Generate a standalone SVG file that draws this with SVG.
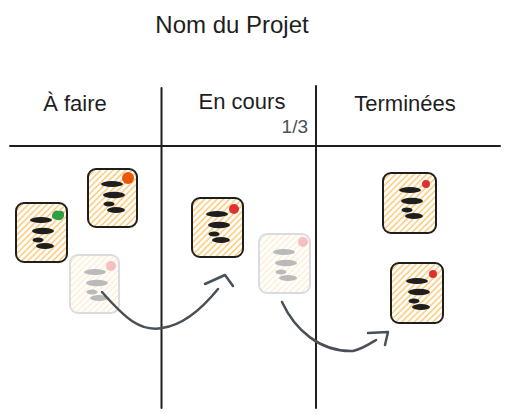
<svg xmlns="http://www.w3.org/2000/svg" width="509" height="418" viewBox="0 0 509 418">
<style>
.t{font-family:"Liberation Sans","DejaVu Sans",sans-serif;fill:#1e1e1e}
.line{stroke:#1e1e1e;stroke-width:2;stroke-linecap:round;fill:none}
.card{fill:url(#hach);stroke:#1e1e1e;stroke-width:2}
.bar{fill:#1e1e1e}
.faded{opacity:0.3}
.conn{stroke:#495057;stroke-width:2.5;fill:none;stroke-linecap:round;stroke-linejoin:round}
</style>
<defs>
<pattern id="hach" patternUnits="userSpaceOnUse" width="4.4" height="4.4" patternTransform="rotate(45)">
<rect width="4.4" height="4.4" fill="#fff"/>
<line x1="1" y1="0" x2="1" y2="4.4" stroke="#fcc05a" stroke-width="1.4" opacity="0.9"/>
</pattern>
<g id="bars">
<ellipse class="bar" cx="25" cy="17" rx="11" ry="3"/>
<ellipse class="bar" cx="27" cy="28" rx="11" ry="3.2"/>
<ellipse class="bar" cx="22" cy="37" rx="5.5" ry="2.6"/>
<ellipse class="bar" cx="29" cy="43" rx="9" ry="3"/>
</g>
</defs>
<rect width="509" height="418" fill="#fff"/>

<g id="title"><text class="t" x="232" y="33" font-size="24" text-anchor="middle">Nom du Projet</text></g>

<g id="grid">
<line class="line" x1="10" y1="146" x2="500" y2="146"/>
<line class="line" x1="161.5" y1="88" x2="161.5" y2="408"/>
<line class="line" x1="316" y1="86" x2="316" y2="408"/>
</g>

<g id="headers">
<text class="t" x="75" y="111" font-size="22" text-anchor="middle">À faire</text>
<text class="t" x="242" y="109" font-size="22" text-anchor="middle">En cours</text>
<text class="t" x="308" y="133" font-size="19" text-anchor="end" style="fill:#495057">1/3</text>
<text class="t" x="405" y="111" font-size="22" text-anchor="middle">Terminées</text>
</g>

<g id="card-green" transform="translate(16,203)">
<rect class="card" x="0" y="0" width="51" height="59" rx="8"/>
<path d="M36 12 Q38 6 43 8 Q49 7 48 13 Q47 18 41 17 Q35 16 36 12Z" fill="#2f9e44"/>
<use href="#bars"/>
</g>

<g id="card-orange" transform="translate(88,169)">
<rect class="card" x="0" y="0" width="49" height="58" rx="8"/>
<circle cx="40" cy="9" r="6" fill="#e8590c"/>
<use href="#bars" transform="translate(-1,-2)"/>
</g>

<g id="card-faded1" class="faded" transform="translate(70,255)">
<rect class="card" x="0" y="0" width="49" height="58" rx="8" style="stroke:#868e96"/>
<circle cx="41" cy="11" r="5" fill="#e03131"/>
<use href="#bars" style="fill:#343a40"/>
</g>

<g id="card-red1" transform="translate(192,198)">
<rect class="card" x="0" y="0" width="51" height="59" rx="8"/>
<circle cx="42" cy="11" r="5" fill="#e03131"/>
<use href="#bars" transform="translate(0,-1)"/>
</g>

<g id="card-faded2" class="faded" transform="translate(259,234)">
<rect class="card" x="0" y="0" width="51" height="59" rx="8" style="stroke:#868e96"/>
<circle cx="44" cy="8" r="5" fill="#e03131"/>
<use href="#bars" transform="translate(0,1)"/>
</g>

<g id="card-done1" transform="translate(383,173)">
<rect class="card" x="0" y="0" width="53" height="60" rx="8"/>
<circle cx="43" cy="11" r="4" fill="#e03131"/>
<use href="#bars" transform="translate(2,0)"/>
</g>

<g id="card-done2" transform="translate(391,263)">
<rect class="card" x="0" y="0" width="52" height="60" rx="8"/>
<circle cx="42" cy="11" r="4" fill="#e03131"/>
<use href="#bars" transform="translate(1,1)"/>
</g>

<g id="connectors">
<path class="conn" d="M102 292 C125 318 140 332 162 328 C185 325 205 305 218 289"/>
<path class="conn" d="M205 284 L225 275 L233 286"/>
<path class="conn" d="M282 302 C295 330 320 352 353 351 C362 349 368 345 376 340"/>
<path class="conn" d="M368 333 L388 332 L385 345"/>
</g>
</svg>
